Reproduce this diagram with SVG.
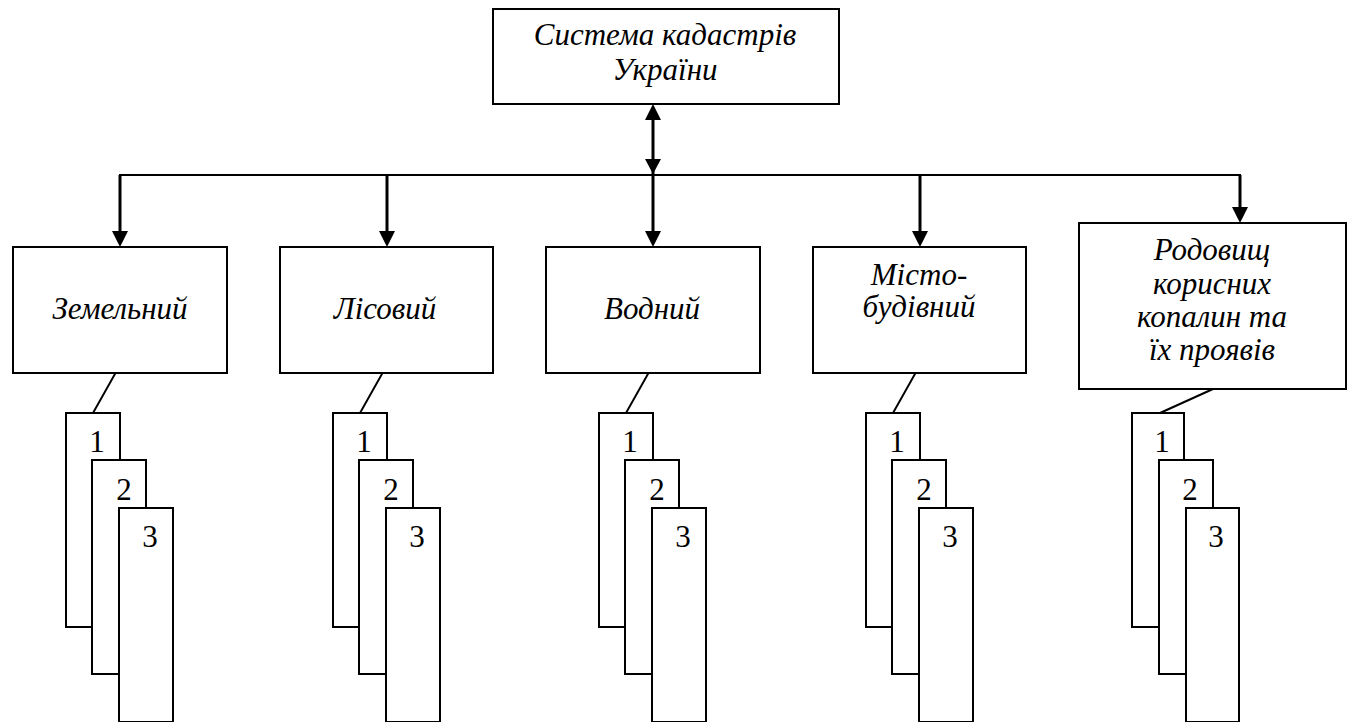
<svg xmlns="http://www.w3.org/2000/svg" width="1355" height="722" viewBox="0 0 1355 722">
<style>
.box{fill:#fff;stroke:#000;stroke-width:2}
.lbl{font-family:"Liberation Serif","Times New Roman",serif;font-style:italic;font-size:31px;text-anchor:middle;fill:#000}
.num{font-family:"Liberation Serif","Times New Roman",serif;font-size:31px;text-anchor:middle;fill:#000}
.ln{stroke:#000;stroke-width:2;fill:none}
.ar{stroke:#000;stroke-width:3;fill:none}
.hd{fill:#000}
</style>
<rect width="1355" height="722" fill="#fff"/>
<g id="connectors">
<line class="ln" x1="119" y1="175" x2="1241" y2="175"/>
<line class="ar" x1="653" y1="114" x2="653" y2="236"/>
<polygon class="hd" points="653,104 645,120 661,120"/>
<polygon class="hd" points="653,174 645,159 661,159"/>
<polygon class="hd" points="653,247 645,231 661,231"/>
<polyline class="ar" points="120,175 120,236"/>
<polygon class="hd" points="120,247 112,231 128,231"/>
<polyline class="ar" points="387,175 387,236"/>
<polygon class="hd" points="387,247 379,231 395,231"/>
<polyline class="ar" points="920,175 920,236"/>
<polygon class="hd" points="920,247 912,231 928,231"/>
<polyline class="ar" points="1240,175 1240,212"/>
<polygon class="hd" points="1240,223 1232,207 1248,207"/>
<line class="ln" x1="120" y1="365" x2="93" y2="413"/>
<line class="ln" x1="387" y1="365" x2="360" y2="413"/>
<line class="ln" x1="653" y1="365" x2="626" y2="413"/>
<line class="ln" x1="920" y1="365" x2="893" y2="413"/>
<line class="ln" x1="1213" y1="389" x2="1160" y2="413"/>
</g>
<g id="root">
<rect class="box" x="493" y="9" width="346" height="95"/>
<text class="lbl" x="665" y="45">Система кадастрів</text>
<text class="lbl" x="665" y="80">України</text>
</g>
<g id="zemelnyi">
<rect class="box" x="13" y="247" width="214" height="126"/>
<text class="lbl" x="120" y="319">Земельний</text>
</g>
<g id="lisovyi">
<rect class="box" x="280" y="247" width="213" height="126"/>
<text class="lbl" x="385" y="319">Лісовий</text>
</g>
<g id="vodnyi">
<rect class="box" x="546" y="247" width="214" height="126"/>
<text class="lbl" x="652" y="319">Водний</text>
</g>
<g id="mistobudivnyi">
<rect class="box" x="813" y="247" width="213" height="126"/>
<text class="lbl" x="919" y="285">Місто-</text>
<text class="lbl" x="919" y="317">будівний</text>
</g>
<g id="rodovyshch">
<rect class="box" x="1079" y="223" width="267" height="166"/>
<text class="lbl" x="1212" y="260">Родовищ</text>
<text class="lbl" x="1212" y="294">корисних</text>
<text class="lbl" x="1212" y="327">копалин та</text>
<text class="lbl" x="1212" y="360">їх проявів</text>
</g>
<g id="cards-1">
<rect class="box" x="66" y="413" width="54" height="214"/><text class="num" x="97" y="452">1</text>
<rect class="box" x="92" y="460" width="54" height="214"/><text class="num" x="124" y="500">2</text>
<rect class="box" x="119" y="508" width="54" height="214"/><text class="num" x="150" y="547">3</text>
</g>
<g id="cards-2">
<rect class="box" x="333" y="413" width="54" height="214"/><text class="num" x="364" y="452">1</text>
<rect class="box" x="359" y="460" width="54" height="214"/><text class="num" x="391" y="500">2</text>
<rect class="box" x="386" y="508" width="54" height="214"/><text class="num" x="417" y="547">3</text>
</g>
<g id="cards-3">
<rect class="box" x="599" y="413" width="54" height="214"/><text class="num" x="630" y="452">1</text>
<rect class="box" x="625" y="460" width="54" height="214"/><text class="num" x="657" y="500">2</text>
<rect class="box" x="652" y="508" width="54" height="214"/><text class="num" x="683" y="547">3</text>
</g>
<g id="cards-4">
<rect class="box" x="866" y="413" width="54" height="214"/><text class="num" x="897" y="452">1</text>
<rect class="box" x="892" y="460" width="54" height="214"/><text class="num" x="924" y="500">2</text>
<rect class="box" x="919" y="508" width="54" height="214"/><text class="num" x="950" y="547">3</text>
</g>
<g id="cards-5">
<rect class="box" x="1132" y="413" width="52" height="214"/><text class="num" x="1162" y="452">1</text>
<rect class="box" x="1159" y="460" width="54" height="214"/><text class="num" x="1190" y="500">2</text>
<rect class="box" x="1186" y="508" width="53" height="214"/><text class="num" x="1216" y="547">3</text>
</g>
</svg>
